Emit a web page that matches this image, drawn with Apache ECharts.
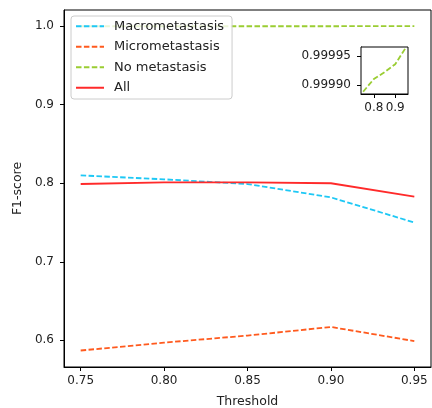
<!DOCTYPE html>
<html>
<head>
<meta charset="utf-8">
<script src="https://cdn.jsdelivr.net/npm/echarts@6/dist/echarts.min.js"></script>
<style>html,body{margin:0;padding:0;background:#fff;}#c{width:432px;height:408px;}</style>
</head>
<body>
<div id="c"></div>
<script>
var thresholds = [0.75, 0.80, 0.85, 0.90, 0.95];
var macro = [0.810, 0.805, 0.799, 0.782, 0.750];
var micro = [0.587, 0.597, 0.606, 0.617, 0.599];
var noMeta = [0.999888, 0.999910, 0.999922, 0.999936, 0.999965];
var allScore = [0.799, 0.801, 0.801, 0.800, 0.783];
var seriesNames = ['Macrometastasis', 'Micrometastasis', 'No metastasis', 'All'];
var xTicks = [0.75, 0.80, 0.85, 0.90, 0.95];
var yTicks = [0.6, 0.7, 0.8, 0.9, 1.0];
var insetXTicks = [0.8, 0.9];
var insetYTicks = [0.99990, 0.99995];

function pairs(vals) { return thresholds.map(function (t, i) { return [t, vals[i]]; }); }

var FONT = 'DejaVu Sans';
var TXT = '#222';
var dash = [5.5, 2.4];
var LW = 1.8;

var chart = echarts.init(document.getElementById('c'), null, {renderer: 'canvas'});

function axisCommon(fmt, customVals) {
  return {
    axisLine: {show: true, onZero: false, lineStyle: {color: '#000', width: 1}},
    axisTick: {show: true, inside: false, length: 4, lineStyle: {color: '#000'}, customValues: customVals},
    axisLabel: {color: TXT, fontFamily: FONT, fontSize: 12, formatter: fmt, customValues: customVals, hideOverlap: false},
    splitLine: {show: false}
  };
}

var xMain = Object.assign({type: 'value', gridIndex: 0, min: 0.74, max: 0.96,
  name: 'Threshold', nameLocation: 'middle', nameGap: 28,
  nameTextStyle: {color: TXT, fontFamily: FONT, fontSize: 12.5}}, axisCommon(function (v) { return v.toFixed(2); }, xTicks));
xMain.axisLabel.margin = 8;
var yMain = Object.assign({type: 'value', gridIndex: 0, min: 0.566, max: 1.0206,
  name: 'F1-score', nameLocation: 'middle', nameGap: 31, nameRotate: 90,
  nameTextStyle: {color: TXT, fontFamily: FONT, fontSize: 12.5}}, axisCommon(function (v) { return v.toFixed(1); }, yTicks));
yMain.axisLabel.margin = 10;
var xIn = Object.assign({type: 'value', gridIndex: 1, min: 0.74, max: 0.96}, axisCommon(function (v) { return v.toFixed(1); }, insetXTicks));
xIn.axisLabel.margin = 8;
var yIn = Object.assign({type: 'value', gridIndex: 1, min: 0.999884, max: 0.999966}, axisCommon(function (v) { return v.toFixed(5); }, insetYTicks));
yIn.axisLabel.margin = 10;

var option = {
  animation: false,
  backgroundColor: '#fff',
  grid: [
    {left: 64, top: 10, right: 1, bottom: 41, show: true, borderColor: '#000', borderWidth: 1, backgroundColor: '#fff', outerBoundsMode: 'none', containLabel: false},
    {left: 361, top: 47, width: 47, height: 47, show: true, borderColor: '#000', borderWidth: 1, backgroundColor: '#fff', z: 5, outerBoundsMode: 'none', containLabel: false}
  ],
  xAxis: [xMain, xIn],
  yAxis: [yMain, yIn],
  legend: {
    orient: 'vertical', left: 71, top: 16,
    data: seriesNames,
    itemWidth: 28, itemHeight: 14, itemGap: 0,
    padding: [0, 8, 1, 4],
    backgroundColor: 'rgba(255,255,255,0.8)',
    borderColor: '#cccccc', borderWidth: 1, borderRadius: 3,
    itemStyle: {color: 'rgba(0,0,0,0)', borderColor: 'rgba(0,0,0,0)', borderWidth: 0},
    textStyle: {color: TXT, fontFamily: FONT, fontSize: 13, lineHeight: 20.5, padding: [0, 0, 0, 5]}
  },
  series: [
    {name: seriesNames[0], type: 'line', xAxisIndex: 0, yAxisIndex: 0, data: pairs(macro), symbol: 'none',
      color: '#1ec8f5', lineStyle: {color: '#1ec8f5', width: LW, type: dash}},
    {name: seriesNames[1], type: 'line', xAxisIndex: 0, yAxisIndex: 0, data: pairs(micro), symbol: 'none',
      color: '#ff5a1e', lineStyle: {color: '#ff5a1e', width: LW, type: dash}},
    {name: seriesNames[2], type: 'line', xAxisIndex: 0, yAxisIndex: 0, data: pairs(noMeta), symbol: 'none',
      color: '#9acd32', lineStyle: {color: '#9acd32', width: LW, type: dash}},
    {name: seriesNames[3], type: 'line', xAxisIndex: 0, yAxisIndex: 0, data: pairs(allScore), symbol: 'none',
      color: '#ff2a2a', lineStyle: {color: '#ff2a2a', width: LW, type: 'solid'}},
    {name: 'inset', type: 'line', xAxisIndex: 1, yAxisIndex: 1, data: pairs(noMeta), symbol: 'none', z: 6,
      color: '#9acd32', lineStyle: {color: '#9acd32', width: LW, type: dash}}
  ]
};
chart.setOption(option);
</script>
</body>
</html>
